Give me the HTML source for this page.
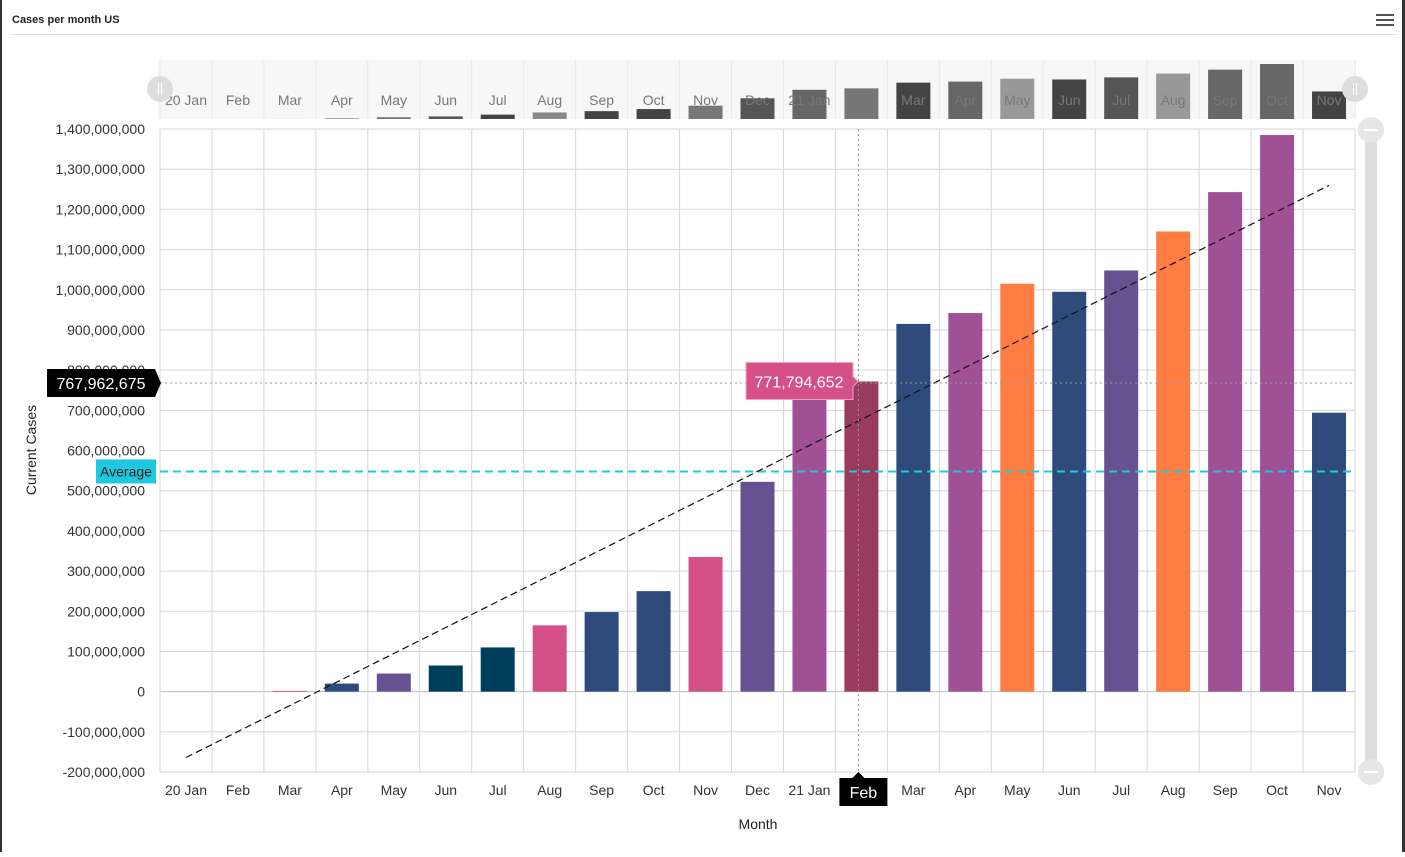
<!DOCTYPE html>
<html><head><meta charset="utf-8"><style>
body{margin:0;background:#fff;font-family:"Liberation Sans",sans-serif}
svg text{font-family:"Liberation Sans",sans-serif}
</style></head><body>
<svg id="c" width="1405" height="852" xmlns="http://www.w3.org/2000/svg">
<rect x="0" y="0" width="2" height="852" fill="#333"/>
<rect x="1402" y="0" width="3" height="852" fill="#333"/>
<text x="12" y="23" font-size="11" font-weight="bold" fill="#222">Cases per month US</text>
<g><rect x="1376" y="14" width="18" height="2" fill="#555"/><rect x="1376" y="19" width="18" height="2" fill="#555"/><rect x="1376" y="24" width="18" height="2" fill="#555"/></g>
<rect x="12" y="34" width="1384" height="1" fill="#ddd"/>
<rect x="158" y="60" width="1198" height="59" fill="#f7f7f7"/>
<g id="nav"></g>
<g id="navl"></g>
<g id="grid"></g>
<g id="bars"></g>
<g id="over"></g>
<rect x="1365" y="129" width="12" height="643" rx="6" fill="#ddd"/>
<circle cx="1371" cy="130" r="13" fill="#e6e6e6"/>
<rect x="1364" y="129" width="14" height="2" fill="#fff"/>
<circle cx="1371" cy="772" r="13" fill="#e6e6e6"/>
<rect x="1364" y="771" width="14" height="2" fill="#fff"/>
<circle cx="160" cy="89" r="13" fill="#ddd"/>
<rect x="158" y="83" width="1" height="12" fill="#fff"/><rect x="161" y="83" width="1" height="12" fill="#fff"/>
<circle cx="1355" cy="89" r="13" fill="#ddd"/>
<rect x="1353" y="83" width="1" height="12" fill="#fff"/><rect x="1356" y="83" width="1" height="12" fill="#fff"/>
<text x="36" y="450" font-size="14" fill="#222" text-anchor="middle" transform="rotate(-90 36 450)">Current Cases</text>
<text x="758" y="829" font-size="14" fill="#222" text-anchor="middle">Month</text>
</svg>
<script>
const categories=["20 Jan","Feb","Mar","Apr","May","Jun","Jul","Aug","Sep","Oct","Nov","Dec","21 Jan","Feb","Mar","Apr","May","Jun","Jul","Aug","Sep","Oct","Nov"];
const values=[0,0,1.5,20,45,65,110,165,198,250,335,522,735,771.794652,915,942,1015,995,1048,1145,1243,1385,694];
const colors=["#2f4b7c","#d45087","#d45087","#2f4b7c","#665191","#003f5c","#003f5c","#d45087","#2f4b7c","#2f4b7c","#d45087","#665191","#a05195","#993a5f","#2f4b7c","#a05195","#ff7c43","#2f4b7c","#665191","#ff7c43","#a05195","#a05195","#2f4b7c"];
const navColors=["#888","#888","#999","#999","#777","#555","#444","#888","#444","#444","#777","#555","#666","#777","#444","#666","#999","#444","#555","#999","#666","#666","#444"];
const yTicks=[-200,-100,0,100,200,300,400,500,600,700,800,900,1000,1100,1200,1300,1400];
const hoverIndex=13;
const X0=160,X1=1355,YT=129,YB=772,YMIN=-200,YMAX=1400;
const NS="http://www.w3.org/2000/svg";
const colW=(X1-X0)/categories.length;
const xc=i=>X0+colW*(i+0.5);
const y=v=>YB-(v-YMIN)/(YMAX-YMIN)*(YB-YT);
function mk(t,a,p){const e=document.createElementNS(NS,t);for(const k in a)e.setAttribute(k,a[k]);p.appendChild(e);return e;}
const grid=document.getElementById('grid'),bars=document.getElementById('bars'),over=document.getElementById('over'),nav=document.getElementById('nav'),navl=document.getElementById('navl');
const fmt=v=>Math.round(v*1e6).toLocaleString('en-US');
yTicks.forEach(t=>{
  const l=mk('line',{x1:X0,x2:X1,y1:y(t),y2:y(t),stroke:t===0?'#bbb':'#d6d6d6'},grid);
  
  
  const tx=mk('text',{x:145,y:y(t)+5,'font-size':14,fill:'#333','text-anchor':'end'},grid);
  tx.textContent=fmt(t);
  
  
});
for(let i=0;i<=categories.length;i++){
  const l=mk('line',{x1:X0+colW*i,x2:X0+colW*i,y1:YT,y2:YB,stroke:'#d6d6d6'},grid);
  
  
  const l2=mk('line',{x1:X0+colW*i,x2:X0+colW*i,y1:60,y2:119,stroke:'#e8e8e8'},nav);
  
  
}
const vmax=Math.max(...values);
categories.forEach((c,i)=>{
  if(i!==hoverIndex){
    const tx=mk('text',{x:xc(i),y:795,'font-size':14,fill:'#333','text-anchor':'middle'},grid);
    tx.textContent=c;
    
    
  }
  const nt=mk('text',{x:xc(i),y:105,'font-size':14,fill:'#777','text-anchor':'middle'},navl);
  nt.textContent=c;
  
  
  const nh=values[i]/vmax*55;
  const nb=mk('rect',{x:xc(i)-17,y:119-nh,width:34,height:nh,fill:navColors[i]},nav);
  
  
  const yt=y(Math.max(values[i],0)),yb=y(0);
  const h=values[i]>0?Math.max(yb-yt,0.8):0;
  const b=mk('rect',{x:xc(i)-17,y:yb-h,width:34,height:h,fill:colors[i]},bars);
  
  
});
const avg=values.reduce((a,b)=>a+b,0)/values.length;
let e=mk('line',{x1:X0,x2:X1,y1:y(avg),y2:y(avg),stroke:'#1ec8e0','stroke-width':2,'stroke-dasharray':'8,5'},over);


e=mk('rect',{x:96,y:y(avg)-12,width:60,height:24,fill:'#1ec8e0'},over);


e=mk('text',{x:126,y:y(avg)+5,'font-size':14,fill:'#222','text-anchor':'middle'},over);
e.textContent='Average';


const n=values.length;let sx=0,sy=0,sxy=0,sxx=0;
values.forEach((v,i)=>{sx+=i;sy+=v;sxy+=i*v;sxx+=i*i;});
const m=(n*sxy-sx*sy)/(n*sxx-sx*sx),b0=(sy-m*sx)/n;
e=mk('line',{x1:xc(0),y1:y(b0),x2:xc(n-1),y2:y(b0+m*(n-1)),stroke:'#111','stroke-width':1.2,'stroke-dasharray':'7,4'},over);


const hx=xc(hoverIndex)-3,hy=y(767.962675);
e=mk('line',{x1:hx,x2:hx,y1:YT,y2:YB,stroke:'#999','stroke-dasharray':'2,3'},over);


e=mk('line',{x1:X0,x2:X1,y1:hy,y2:hy,stroke:'#999','stroke-dasharray':'2,3'},over);


e=mk('path',{d:`M47 ${hy-14}H155L161 ${hy}L155 ${hy+14}H47Z`,fill:'#000'},over);


e=mk('text',{x:101,y:hy+6,'font-size':16,fill:'#fff','text-anchor':'middle'},over);
e.textContent='767,962,675';


e=mk('path',{d:`M${hx-19} 778H${hx-6}L${hx} 772L${hx+6} 778H${hx+29}V806H${hx-19}Z`,fill:'#000'},over);


e=mk('text',{x:hx+5,y:798,'font-size':16,fill:'#fff','text-anchor':'middle'},over);
e.textContent=categories[hoverIndex];


const ty=y(values[hoverIndex]);
e=mk('path',{d:`M746 ${ty-19}H853V${ty-5}L858 ${ty}L853 ${ty+5}V${ty+18}H746Z`,fill:'#d45087',stroke:'#f0a0c0'},over);


e=mk('text',{x:799,y:ty+6,'font-size':16,fill:'#fff','text-anchor':'middle'},over);
e.textContent=fmt(values[hoverIndex]);


</script>
</body></html>
